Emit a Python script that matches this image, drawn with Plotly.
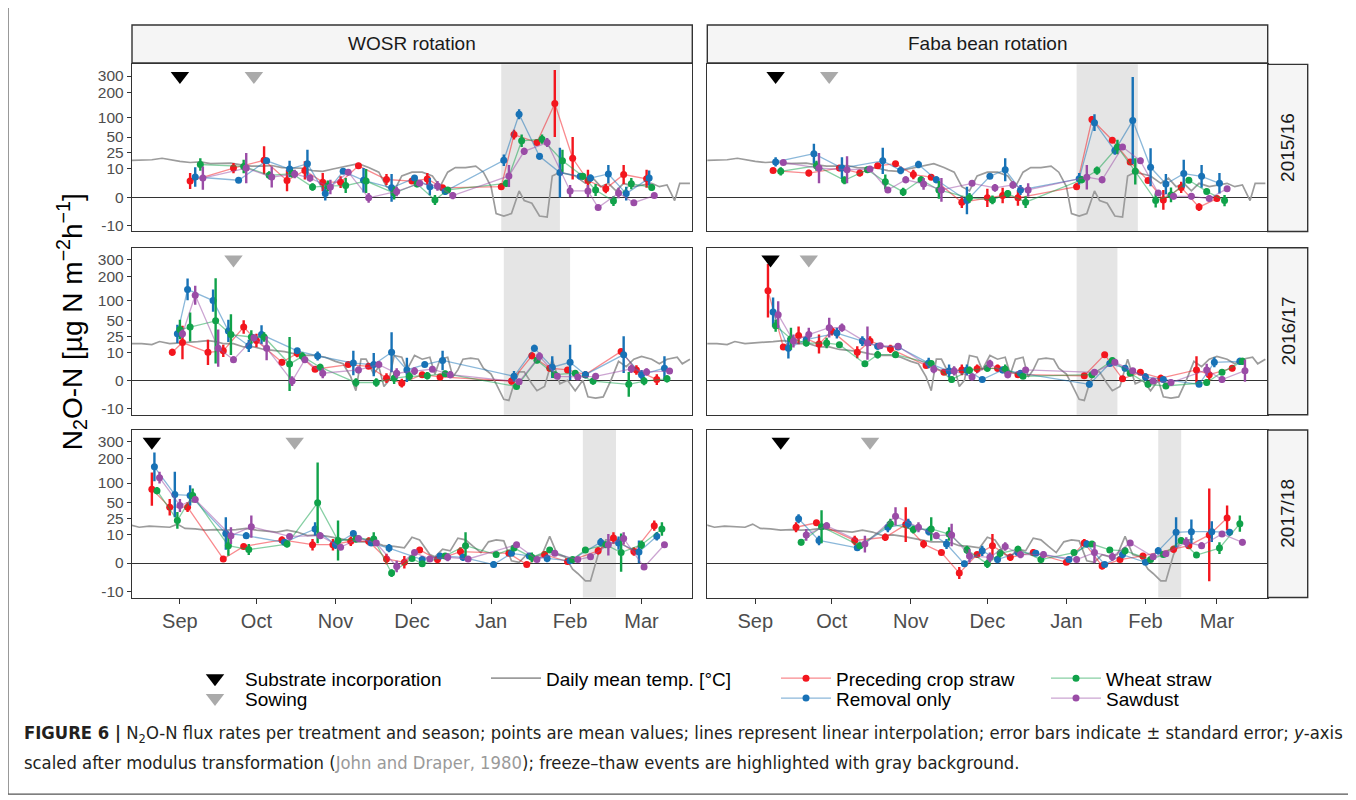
import numpy as np
import plotly.graph_objects as go

# ---------------------------------------------------------------- data
rotations = ["WOSR rotation", "Faba bean rotation"]
seasons = ["2015/16", "2016/17", "2017/18"]
treatments = ["Preceding crop straw", "Removal only", "Wheat straw", "Sawdust"]
treatment_colors = ["#F3161E", "#1872B6", "#10A24A", "#9A4CA6"]
month_ticks = ["09-01", "10-01", "11-01", "12-01", "01-01", "02-01", "03-01"]
month_labels = ["Sep", "Oct", "Nov", "Dec", "Jan", "Feb", "Mar"]
y_ticks = [-10, 0, 10, 25, 50, 100, 200, 300]
y_tick_labels = ["-10", "0", "10", "25", "50", "100", "200", "300"]

# (date MM-DD, mean flux, upper end of error bar)  [ug N m-2 h-1]
wosr_1516_pcs = [("09-05",3.8,7.5),("09-22",10.6,14.5),("10-04",17,34),("10-13",4,9.5),("10-20",9.1,16),("10-27",3.4,7.5),("11-03",3.4,5.8),("11-10",12.3,14.5),("11-21",4.4,7),("12-01",3.8,5),("12-07",4.6,7.5),("12-13",1.7,2.4),("01-05",2,3),("01-10",55,66),("01-19",40,45),("01-26",151,344),("02-02",19,50),("02-08",4,9.5),("02-15",1.5,2.8),("02-22",6.7,13),("03-03",4.7,9.5)]
wosr_1516_ro = [("09-07",5.5,11.3),("09-24",4.1,5),("10-05",16.5,19.5),("10-14",10,16.5),("10-21",14,29),("10-28",0.5,2),("11-04",8.5,10),("11-12",4.1,10.6),("11-23",1.7,7),("12-02",5,6),("12-08",2,5),("12-14",0.9,1.7),("01-06",17,23),("01-12",110,128),("01-20",21,25),("01-28",7.8,32),("02-05",5.8,7),("02-09",5,6.7),("02-16",7,13),("02-23",0.5,2),("03-04",5,9)]
wosr_1516_ws = [("09-09",13.3,19),("09-26",11.8,17.5),("10-06",6.3,8.5),("10-15",7.2,9.5),("10-23",1.9,3),("10-29",2.2,4),("11-05",2.3,5),("11-13",3.8,10),("11-24",0.6,2),("12-03",2.8,4),("12-10",-0.4,0.3),("12-15",1.2,1.9),("01-07",3,4.3),("01-13",43,55),("01-21",46,55),("01-29",16.5,29),("02-06",5.8,7.5),("02-11",1.2,2.8),("02-18",-0.6,0.1),("02-25",2.9,5),("03-05",1.8,2.8)]
wosr_1516_sd = [("09-10",5,11.8),("09-27",10.6,25),("10-07",5.5,11.8),("10-16",7,9.5),("10-22",5,6.7),("10-30",1.9,4.3),("11-06",8,10),("11-14",-0.1,0.6),("11-25",0.9,2),("12-04",3,4),("12-11",2.2,3.8),("12-17",0.2,0.8),("01-08",6,13),("01-14",27,32),("01-23",40,48),("02-01",1,2.5),("02-08",1,2.5),("02-12",-2,-1.3),("02-20",0.6,1.7),("02-26",-0.9,-0.4),("03-06",0.2,0.5)]

faba_1516_pcs = [("09-08",9,10),("09-22",7.5,9.5),("10-04",10.6,13),("10-12",7.5,9.5),("10-19",12.3,14.5),("10-26",14,15.5),("11-02",6.7,9.5),("11-09",5.4,6.7),("11-21",-0.8,0.1),("12-01",-0.1,1.5),("12-07",0.2,1.7),("12-13",-0.1,1.2),("01-05",2,3),("01-11",93,103),("01-19",44,48),("01-26",15.5,17.5),("02-02",4,5),("02-08",-0.4,1.2),("02-15",1.8,3.5),("02-22",-1.9,-1),("03-01",-0.2,0.2)]
faba_1516_ro = [("09-09",15.5,20),("09-24",24,38),("10-05",10.6,20),("10-21",16.5,32),("10-28",9.1,11.8),("11-04",13.3,16.5),("11-11",4.3,5.8),("11-23",-0.5,2),("12-02",5.8,7),("12-08",9.5,19),("12-14",1.2,2.5),("01-06",4.7,7.5),("01-12",84,110),("01-20",28,34),("01-27",90,294),("02-03",11.2,31),("02-09",2.8,7),("02-16",7.2,17.5),("02-23",5.8,13),("03-02",3,7.5)]
faba_1516_ws = [("09-11",8.5,11.3),("09-25",12.3,16.5),("10-06",4.1,5.8),("10-15",9.5,11.8),("10-22",3.5,6.7),("10-29",0.8,1.7),("11-05",4.3,5.8),("11-12",1.2,3.8),("11-24",-0.1,0.6),("12-03",-0.4,0.2),("12-09",0.5,1.2),("12-16",-0.8,0.1),("01-07",4.3,5.8),("01-13",9,11.8),("01-21",33,45),("01-28",8.5,19),("02-05",-0.5,0.5),("02-11",0.3,1.8),("02-18",4.1,5),("02-25",0.9,1.5),("03-04",-0.5,0.3)]
faba_1516_sd = [("09-12",15,16.5),("09-26",10.6,25),("10-07",9.5,21),("10-16",10,11.8),("10-23",1.2,1.8),("10-30",4.3,5.8),("11-06",2.8,5),("11-13",1.2,5),("11-25",3,4),("12-04",1.7,2.8),("12-11",2.5,3.8),("12-17",1.2,3),("01-09",5.4,13),("01-15",4.3,5.8),("01-23",33,37),("01-30",16.5,19.5),("02-06",0.6,1.2),("02-12",0.1,0.6),("02-19",0.1,0.6),("02-26",-0.2,0.2),("03-05",1.5,2)]

wosr_1617_pcs = [("08-29",10,12.5),("09-02",18,40),("09-12",10,21),("09-18",11,16),("09-26",38,50),("10-01",20,28),("10-11",4.6,6),("10-17",9.3,12),("10-24",2.2,3),("11-06",3.7,4.5),("11-14",3.1,4),("11-21",0.3,1.2),("11-27",-0.4,0.2),("12-05",0.9,1.5),("12-12",0.5,1.1),("01-09",-0.1,0.4),("01-17",7.8,10),("01-24",2.5,3.5),("01-31",2,2.8),("02-07",0.9,1.6),("02-21",10.6,11.5),("02-27",2,3.5),("03-07",0.1,1)]
wosr_1617_ro = [("08-31",28,42),("09-04",140,188),("09-14",100,140),("09-20",32,51),("09-28",15,21),("10-03",27,41),("10-17",11,13),("10-25",7.7,10.6),("11-08",4.3,11),("11-16",3.7,9.5),("11-23",10,30),("11-29",2,6.7),("12-06",3.7,4.6),("12-13",5.4,11),("01-10",0.6,1.7),("01-18",13,16),("01-25",2.8,7.5),("02-01",4.6,16),("02-07",0.9,1.7),("02-22",8.5,25),("03-01",0.9,2),("03-10",2.5,7.5)]
wosr_1617_ws = [("09-01",34,51),("09-05",38,67),("09-15",49,190),("09-21",27,63),("09-29",24,33),("10-04",24,30),("10-14",3.9,24),("10-19",7.5,10),("10-26",2.8,4),("11-09",-0.3,0.3),("11-17",-0.3,0.3),("11-24",0.3,1.4),("11-30",0.6,1.5),("12-07",0.7,1.5),("12-14",1.1,1.8),("01-11",-1,-0.6),("01-19",5.5,7),("01-26",0.9,1.6),("02-03",1.2,2),("02-10",-0.1,0.4),("02-24",-0.6,1.5),("03-02",-0.1,0.5),("03-11",0.2,0.8)]
wosr_1617_sd = [("09-02",28,34),("09-07",118,155),("09-16",13,34),("09-22",5.8,7.5),("09-30",23,27),("10-05",13,25),("10-15",-0.1,0.6),("10-20",5.8,7.5),("10-27",1.2,2.5),("11-10",2,3),("11-18",3.7,5),("11-25",1.2,2.5),("12-02",1.7,2.8),("12-09",2.2,3),("12-16",0.9,1.7),("01-12",-0.2,0.2),("01-20",7.5,10),("01-27",0.6,1.2),("02-04",0.5,0.9),("02-11",0.6,1.2),("02-25",2.3,3.7),("03-03",1.5,2.5),("03-12",1.7,2.4)]

faba_1617_pcs = [("09-06",135,270),("09-12",14,16),("09-18",26,39),("09-26",16.5,27),("10-01",32,39),("10-11",10,14.5),("10-16",19.5,25),("10-24",12.5,16),("11-07",3.4,4.3),("11-14",1.4,2),("11-21",2,3.7),("11-27",2.3,3.7),("12-05",2.5,3.7),("12-13",0.9,1.5),("01-08",0.7,1.2),("01-16",8.5,10),("01-23",0.2,0.6),("01-30",1.4,2),("02-07",0.3,0.9),("02-21",2,7.5),("02-26",0.9,2.5),("03-07",2.5,3.5)]
faba_1617_ro = [("09-08",68,110),("09-14",13,23),("09-21",21,25),("10-03",29,37),("10-13",19.5,25),("10-19",14.5,17.5),("10-27",14,16),("11-08",4.3,6.7),("11-16",1.7,3.7),("11-23",2,3.7),("11-29",0.1,0.5),("12-07",2,3),("12-14",1.2,1.8),("01-10",-0.6,-0.1),("01-18",4.1,5),("01-24",2.5,3.5),("02-01",0.5,1.2),("02-08",0.1,0.5),("02-22",-0.6,-0.4),("02-28",4.6,7),("03-10",5,6.7)]
faba_1617_ws = [("09-09",40,51),("09-15",22,37),("09-21",17.5,21),("09-29",17.5,23),("10-04",16,17.5),("10-14",4,5),("10-19",8.5,11),("10-26",8.5,10.6),("11-09",4.1,5),("11-17",0.1,0.6),("11-24",1.9,3),("12-01",2.5,3.7),("12-08",2.2,3.7),("12-15",0.6,1),("01-11",0.9,1.2),("01-19",5.4,6.7),("01-26",1.2,1.8),("02-02",-0.6,-0.1),("02-09",-0.9,-0.5),("02-25",-0.3,0.1),("03-03",1.4,1.8),("03-11",5,6.7)]
faba_1617_sd = [("09-10",62,98),("09-16",19.5,27),("09-22",27,37),("09-30",37,55),("10-05",37,44),("10-15",17.5,39),("10-20",15,17.5),("10-27",14.5,16.5),("11-10",2.2,3.5),("11-18",1.7,3),("11-25",0.5,1.2),("12-02",4,5.8),("12-09",0.9,1.7),("12-16",2,2.8),("01-12",1.4,2),("01-20",4.6,5.8),("01-27",1.8,2.5),("02-04",-0.1,0.3),("02-11",-0.3,0.1),("02-25",2,4),("03-03",0.1,0.6),("03-12",1.8,5.8)]

wosr_1718_pcs = [("08-21",82,137),("08-28",42,58),("09-04",42,51),("09-18",0.6,1.2),("09-26",4,5),("10-11",7,9),("10-23",4.7,7.5),("10-31",4.7,7.5),("11-07",6.3,9),("11-14",6.3,8.5),("11-21",0.6,1.7),("11-28",0.1,1.2),("12-04",2.8,3.7),("12-11",0.5,1.2),("12-20",2.3,3.7),("01-08",1.8,2.5),("01-15",-0.2,0.1),("01-22",1.5,2.4),("01-31",0.2,0.6),("02-12",2.5,3.7),("02-18",8,11.8),("02-26",2.3,3.7),("03-06",17.5,23)]
wosr_1718_ro = [("08-22",161,233),("08-30",68,140),("09-05",66,93),("09-19",11,27),("09-27",9.5,11.8),("10-12",5.8,7.5),("10-24",14.5,21),("11-01",4.7,6.7),("11-08",11,12.5),("11-15",5.4,6.7),("11-22",3.4,5),("12-05",0.5,1.2),("12-12",1.2,1.8),("12-21",0.9,1.7),("01-02",-0.2,0.2),("01-09",1.8,2.4),("01-16",1.2,1.8),("01-23",0.7,1.5),("02-01",0.3,0.8),("02-13",5.8,8),("02-20",5.4,9),("02-28",2.2,6.7),("03-07",9.1,12)]
wosr_1718_ws = [("08-23",78,88),("08-31",23,34),("09-06",66,84),("09-20",4.3,9.5),("09-28",2.9,5),("10-13",5,6.7),("10-25",50,181),("11-02",6.7,23),("11-09",7.5,9.5),("11-16",7.5,11.8),("11-23",-1.9,-1),("12-01",0.7,1.2),("12-05",-0.1,0.2),("12-14",1.2,1.8),("12-22",4.3,11.8),("01-03",1.5,2),("01-10",3.4,4.3),("01-17",0.9,2),("01-24",2.8,3.7),("02-02",0.5,0.9),("02-07",2.8,3.5),("02-15",4.7,5.8),("02-21",2,11),("03-01",4.7,6.7),("03-09",14.5,21)]
wosr_1718_sd = [("08-24",118,140),("09-01",45,58),("09-07",57,64),("09-21",9.5,16),("09-29",16.5,29),("10-14",9,10.6),("10-26",9.5,11.8),("11-03",3.7,4.6),("11-10",7.8,9.5),("11-17",5.4,6.7),("11-25",-0.5,0.3),("12-02",2,2.8),("12-08",0.6,1.2),("12-15",0.9,1.8),("12-23",0.6,1),("01-11",4.7,5.8),("01-19",0.5,0.9),("01-26",1.8,2.5),("02-04",0.5,0.9),("02-09",1,1.7),("02-16",4.7,10.6),("02-22",7.8,11.8),("03-02",-0.6,-0.4),("03-10",4.7,5.8)]

faba_1718_pcs = [("09-17",16,21),("09-25",20.4,22),("10-10",6.7,9.5),("10-22",8.5,11),("10-30",18.5,42),("11-06",5,7),("11-13",2,2.8),("11-20",-1.9,-0.6),("11-27",1.5,2),("12-03",4.3,10.6),("12-10",0.9,1.7),("12-19",2,3),("01-01",0.1,0.5),("01-08",5.5,7.5),("01-15",-0.4,0.1),("01-22",0.5,0.8),("01-31",1.2,1.8),("02-12",3,4.3),("02-18",4.3,5.8),("02-26",10,84),("03-05",26,45)]
faba_1718_ro = [("09-18",25,31),("09-26",6.7,9.5),("10-11",3.5,4.3),("10-23",16,21),("10-31",19.5,25),("11-08",12.5,16),("11-15",5,7.5),("11-22",-0.1,0.3),("11-29",2.5,4.3),("12-05",0.5,1.2),("12-13",2,3),("12-20",1.8,2.5),("01-02",0.5,0.9),("01-09",5,6.7),("01-16",-0.2,0.1),("01-23",1.5,2.5),("02-01",0.1,0.5),("02-06",2.5,3.7),("02-13",11.8,27),("02-19",12.3,24),("02-27",12.3,22),("03-06",11.8,14.5)]
faba_1718_ws = [("09-19",5.8,7.5),("09-27",16.5,37),("10-12",4.3,5.8),("10-24",19.5,25),("11-02",14,17.5),("11-09",14.5,27),("11-16",10.6,16),("11-23",2.8,4.3),("12-01",-0.1,0.5),("12-06",1.8,3),("12-13",3,4.3),("12-22",0.5,1.2),("01-04",2,2.5),("01-11",5,5.8),("01-18",2.8,3.7),("01-24",2.5,3.7),("02-03",0.5,0.9),("02-08",1.5,2),("02-15",6.7,8.5),("02-21",1.4,2),("03-02",3.4,5.8),("03-10",19.5,29)]
faba_1718_sd = [("09-21",10,14.5),("09-29",17.5,21),("10-14",5,9.5),("10-26",28,42),("11-04",16,21),("11-11",9.5,11.8),("11-17",10,19.5),("11-24",1.2,3),("12-02",0.9,2),("12-08",4,5.8),("12-14",1.5,2.5),("12-23",1.5,2.4),("01-05",0.5,0.8),("01-12",2,5.8),("01-19",1,2),("01-26",5.5,6.7),("02-04",1,1.5),("02-09",1.7,2),("02-17",5.8,8.5),("02-23",4.3,5.8),("03-03",10.6,12.5),("03-11",5.8,7.5)]

# daily mean air temperature [deg C] (same weather for both rotations)
temp_1516 = [("08-13",17),("08-17",17),("08-21",17.5),("08-25",19),("08-29",17),("09-01",16),("09-05",15),("09-09",15.5),("09-13",14),("09-17",14.5),("09-21",14.5),("09-25",13),("09-29",12),("10-03",12),("10-07",12.5),("10-11",11),("10-15",11),("10-19",10.5),("10-23",9),("10-27",8.5),("10-31",10),("11-03",11),("11-07",13),("11-10",14),("11-14",11),("11-18",8),("11-21",2),("11-24",1),("11-27",6),("12-01",8),("12-05",8),("12-09",6),("12-12",2),("12-15",8),("12-18",11),("12-22",11),("12-26",12),("12-29",8),("01-01",2),("01-03",-4),("01-06",-5),("01-09",-4),("01-12",1),("01-14",-0.5),("01-17",-1),("01-20",-5),("01-23",-5.5),("01-25",6),("01-28",8),("01-31",7),("02-03",6),("02-07",3),("02-10",5),("02-13",2),("02-16",3),("02-19",1),("02-22",3),("02-26",2),("03-01",2.5),("03-05",3),("03-08",2),("03-11",2.5),("03-14",-0.5),("03-16",3),("03-20",3)]
temp_1617 = [("08-13",17),("08-17",17),("08-21",16),("08-24",19),("08-28",17),("09-01",17.5),("09-04",18),("09-08",19),("09-12",20),("09-15",19),("09-18",17),("09-22",17),("09-26",14),("09-30",14),("10-04",12),("10-08",11),("10-12",10.5),("10-16",9),("10-20",8),("10-24",8),("10-28",7),("11-01",5),("11-04",4),("11-07",0.5),("11-09",-2),("11-11",6),("11-13",6),("11-16",1),("11-18",3),("11-20",-1),("11-22",0),("11-24",8),("11-27",7),("11-29",2),("12-02",8),("12-05",6),("12-08",7),("12-10",1),("12-12",6),("12-15",7),("12-17",0.5),("12-19",2),("12-21",6),("12-24",6.5),("12-27",6),("12-29",2.5),("01-01",1),("01-03",-0.5),("01-06",-5),("01-08",-5.5),("01-10",-0.5),("01-12",1.5),("01-14",1.5),("01-17",-0.5),("01-19",-2),("01-22",-1),("01-25",6),("01-28",-0.5),("01-31",0),("02-03",-2),("02-06",0),("02-08",-4),("02-11",-4.5),("02-14",-4),("02-17",0),("02-20",5),("02-23",3),("02-26",6),("03-01",7.5),("03-05",6),("03-08",4),("03-11",6),("03-15",7),("03-17",4),("03-20",6)]
temp_1718 = [("08-13",18),("08-16",16),("08-20",17),("08-24",16.5),("08-28",16),("08-31",19),("09-03",15),("09-07",14.5),("09-11",13.5),("09-15",14),("09-19",13.5),("09-23",14),("09-27",15),("10-01",13.5),("10-05",12.5),("10-09",12),("10-13",13.5),("10-17",12),("10-21",9.5),("10-25",10),("10-29",9),("11-02",8),("11-05",7),("11-09",6),("11-13",6),("11-17",5.5),("11-20",4.3),("11-24",4),("11-28",3.5),("12-01",8.5),("12-04",7),("12-08",1.5),("12-10",1),("12-13",3),("12-16",2.5),("12-19",8),("12-22",7),("12-25",4),("12-28",2),("12-31",6),("01-03",7),("01-06",6.5),("01-09",0.3),("01-12",0.1),("01-15",1.5),("01-18",1),("01-21",1.5),("01-24",9),("01-27",1.5),("01-30",1),("02-02",-1),("02-04",-2),("02-07",-4.5),("02-09",-4.5),("02-12",1.5),("02-15",7),("02-18",7),("02-20",7.5)]

# management events and freeze-thaw periods per (rotation, season)
incorporation = {(0, 0): "09-01", (1, 0): "09-09", (1, 1): "09-07", (0, 2): "08-21", (1, 2): "09-11"}
sowing = {(0, 0): "09-30", (1, 0): "09-30", (0, 1): "09-22", (1, 1): "09-22", (0, 2): "10-16", (1, 2): "10-16"}
freeze_thaw = {(0, 0): ("01-05", "01-28"), (1, 0): ("01-05", "01-29"),
               (0, 1): ("01-06", "02-01"), (1, 1): ("01-05", "01-21"),
               (0, 2): ("02-06", "02-19"), (1, 2): ("02-06", "02-15")}

flux = {
    (0, 0): [wosr_1516_pcs, wosr_1516_ro, wosr_1516_ws, wosr_1516_sd],
    (1, 0): [faba_1516_pcs, faba_1516_ro, faba_1516_ws, faba_1516_sd],
    (0, 1): [wosr_1617_pcs, wosr_1617_ro, wosr_1617_ws, wosr_1617_sd],
    (1, 1): [faba_1617_pcs, faba_1617_ro, faba_1617_ws, faba_1617_sd],
    (0, 2): [wosr_1718_pcs, wosr_1718_ro, wosr_1718_ws, wosr_1718_sd],
    (1, 2): [faba_1718_pcs, faba_1718_ro, faba_1718_ws, faba_1718_sd],
}
temps = [temp_1516, temp_1617, temp_1718]

# ---------------------------------------------------------------- helpers
LAMBDA = 0.3


def modulus(v):
    """John & Draper (1980) modulus transformation."""
    v = np.asarray(v, dtype=float)
    return np.sign(v) * ((np.abs(v) + 1.0) ** LAMBDA - 1.0) / LAMBDA


def as_date(md):
    # all seasons are drawn on a common Aug-Mar axis
    return ("2001-" if int(md[:2]) >= 7 else "2002-") + md


def rgba(hexcol, a):
    h = hexcol.lstrip("#")
    return "rgba(%d,%d,%d,%.2f)" % (int(h[0:2], 16), int(h[2:4], 16), int(h[4:6], 16), a)


W, H = 1356, 800
OX, OY = 8, 8   # the page body offsets the figure by 8 px


def px(x):
    return (x - OX) / W


def py(y):
    return 1 - (y - OY) / H


FONT = "Liberation Sans, Arial, Helvetica, sans-serif"
CAPFONT = "Liberation Sans Narrow, Arial Narrow, DejaVu Sans Condensed, sans-serif"
col_px = [(132.0, 692.3), (707.3, 1267.7)]
row_px = [(64.5, 232.0), (248.3, 415.7), (431.0, 599.0)]
x_range = ["2001-08-13 05:00", "2002-03-20 22:00"]
y_range = [-4.3, 16.6]

fig = go.Figure()
layout = {}
shapes = []
annotations = []

for r in range(3):
    for c in range(2):
        idx = r * 2 + c + 1
        xa = "x" if idx == 1 else "x%d" % idx
        ya = "y" if idx == 1 else "y%d" % idx
        first = idx == 1

        layout["xaxis" if idx == 1 else "xaxis%d" % idx] = dict(
            domain=[px(col_px[c][0]), px(col_px[c][1])], anchor=ya, type="date",
            range=x_range, showgrid=False, zeroline=False,
            showline=True, mirror=True, linecolor="#333333", linewidth=1.4,
            tickmode="array", tickvals=[as_date(m) for m in month_ticks], ticktext=month_labels,
            showticklabels=(r == 2), ticks="outside" if r == 2 else "",
            ticklen=5, tickwidth=1.4, tickcolor="#333333",
            tickfont=dict(family=FONT, size=20, color="#4D4D4D"),
        )
        layout["yaxis" if idx == 1 else "yaxis%d" % idx] = dict(
            domain=[py(row_px[r][1]), py(row_px[r][0])], anchor=xa,
            range=y_range, showgrid=False,
            zeroline=True, zerolinecolor="#333333", zerolinewidth=1.4,
            showline=True, mirror=True, linecolor="#333333", linewidth=1.4,
            tickmode="array", tickvals=list(modulus(y_ticks)), ticktext=y_tick_labels,
            showticklabels=(c == 0), ticks="outside" if c == 0 else "",
            ticklen=4, tickwidth=1.4, tickcolor="#333333",
            tickfont=dict(family=FONT, size=15.5, color="#4D4D4D"),
        )

        # freeze-thaw background
        s, e = freeze_thaw[(c, r)]
        shapes.append(dict(type="rect", xref=xa, yref=ya + " domain",
                           x0=as_date(s), x1=as_date(e), y0=0, y1=1,
                           fillcolor="#E5E5E5", line=dict(width=0), layer="below"))

        # temperature
        t = temps[r]
        fig.add_trace(go.Scatter(
            x=[as_date(m) for m, _ in t], y=modulus([v for _, v in t]),
            mode="lines", line=dict(color="#9C9C9C", width=1.7),
            name="Daily mean temp. [°C]", legend="legend3", legendgroup="temp",
            showlegend=first, xaxis=xa, yaxis=ya, hoverinfo="skip"))

        # treatments
        for k, series in enumerate(flux[(c, r)]):
            dates = [as_date(m) for m, _, _ in series]
            mean = modulus([v for _, v, _ in series])
            upper = modulus([u for _, _, u in series])
            fig.add_trace(go.Scatter(
                x=dates, y=mean, mode="lines+markers",
                line=dict(color=rgba(treatment_colors[k], 0.5), width=1.3),
                marker=dict(color=treatment_colors[k], size=7),
                error_y=dict(type="data", array=list(upper - mean), symmetric=True,
                             thickness=2.4, width=0, color=treatment_colors[k]),
                name=treatments[k], legend="legend%d" % (4 + k),
                legendgroup=treatments[k], showlegend=first,
                xaxis=xa, yaxis=ya, hoverinfo="skip"))

        # event markers at the top of each panel
        key = (c, r)
        fig.add_trace(go.Scatter(
            x=[as_date(incorporation[key])] if key in incorporation else [],
            y=list(modulus([300])) if key in incorporation else [],
            mode="markers", marker=dict(symbol="triangle-down", size=16, color="black"),
            name="Substrate incorporation", legend="legend", legendgroup="inc",
            showlegend=first, xaxis=xa, yaxis=ya, hoverinfo="skip"))
        fig.add_trace(go.Scatter(
            x=[as_date(sowing[key])], y=list(modulus([300])),
            mode="markers", marker=dict(symbol="triangle-down", size=16, color="#AAAAAA"),
            name="Sowing", legend="legend2", legendgroup="sow",
            showlegend=first, xaxis=xa, yaxis=ya, hoverinfo="skip"))

# facet strips
STRIP_FILL, STRIP_LINE = "#F5F5F5", "#333333"
for c in range(2):
    shapes.append(dict(type="rect", xref="paper", yref="paper",
                       x0=px(col_px[c][0]), x1=px(col_px[c][1]), y0=py(63), y1=py(25),
                       fillcolor=STRIP_FILL, line=dict(color=STRIP_LINE, width=1.4)))
    annotations.append(dict(xref="paper", yref="paper", x=px(sum(col_px[c]) / 2), y=py(44),
                            xanchor="center", yanchor="middle",
                            text=rotations[c], showarrow=False,
                            font=dict(family=FONT, size=19, color="#1A1A1A")))
for r in range(3):
    shapes.append(dict(type="rect", xref="paper", yref="paper",
                       x0=px(1267.7), x1=px(1307.7), y0=py(row_px[r][1]), y1=py(row_px[r][0]),
                       fillcolor=STRIP_FILL, line=dict(color=STRIP_LINE, width=1.4)))
    annotations.append(dict(xref="paper", yref="paper", x=px(1288), y=py(sum(row_px[r]) / 2),
                            xanchor="center", yanchor="middle",
                            text=seasons[r], showarrow=False, textangle=-90,
                            font=dict(family=FONT, size=19, color="#1A1A1A")))

# y-axis title
annotations.append(dict(xref="paper", yref="paper", x=px(72), y=py(323),
                        xanchor="center", yanchor="middle",
                        text="N<sub>2</sub>O-N [µg N m<sup>−2</sup>h<sup>−1</sup>]",
                        showarrow=False, textangle=-90,
                        font=dict(family=FONT, size=28, color="black")))

# caption
annotations.append(dict(xref="paper", yref="paper", x=px(22), y=py(736), xanchor="left", yanchor="middle",
                        text="<b>FIGURE 6 |</b> N<sub>2</sub>O-N flux rates per treatment and season; "
                             "points are mean values; lines represent linear interpolation; error bars "
                             "indicate ± standard error; <i>y</i>-axis",
                        showarrow=False, font=dict(family=CAPFONT, size=18.3, color="#231F20")))
annotations.append(dict(xref="paper", yref="paper", x=px(22), y=py(764), xanchor="left", yanchor="middle",
                        text="scaled after modulus transformation (<span style='color:#9A9A9A'>John and "
                             "Draper, 1980</span>); freeze–thaw events are highlighted with gray background.",
                        showarrow=False, font=dict(family=CAPFONT, size=18.3, color="#231F20")))

# outer frame
shapes.append(dict(type="rect", xref="paper", yref="paper", x0=px(8), x1=px(1350),
                   y0=py(796), y1=py(7), line=dict(color="#555555", width=1.2)))

# one legend box per key: (text start x, text centre y) in page pixels
legend_pos = {"legend": (245, 680), "legend2": (245, 700), "legend3": (546, 680),
              "legend4": (836, 680), "legend5": (836, 700), "legend6": (1106, 680),
              "legend7": (1106, 700)}
legends = {}
for name, (tx, ty) in legend_pos.items():
    legends[name] = dict(x=px(tx - 60), y=py(ty), xanchor="left", yanchor="middle",
                         bgcolor="rgba(0,0,0,0)", itemwidth=50,
                         font=dict(family=FONT, size=19, color="black"))

fig.update_layout(
    width=W, height=H, margin=dict(l=0, r=0, t=0, b=0), autosize=False,
    paper_bgcolor="white", plot_bgcolor="white",
    shapes=shapes, annotations=annotations,
    **legends,
    **layout,
)

fig.write_html("out.html")
